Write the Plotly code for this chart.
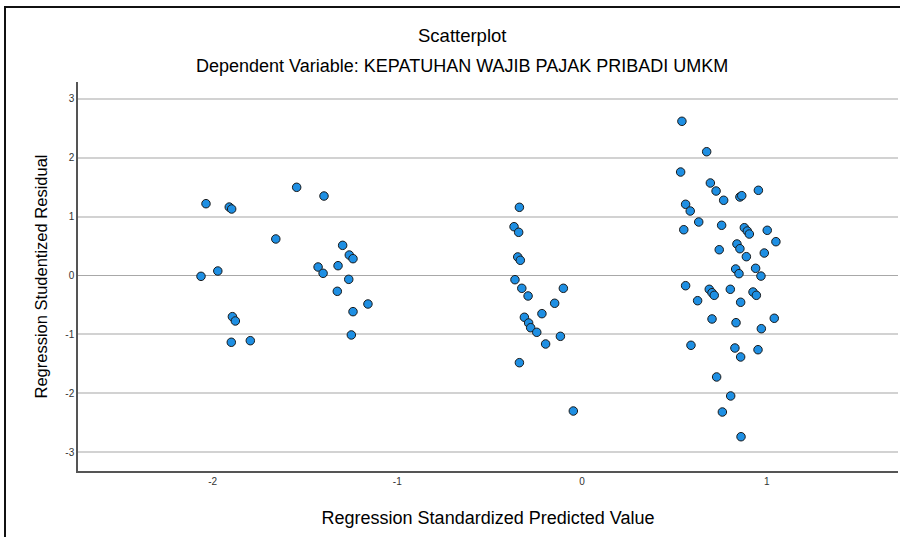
import plotly.graph_objects as go

# Regression Standardized Predicted Value (x) and Studentized Residual (y)
pred = [
    -2.036, -1.910, -1.897, -1.545, -1.397, -1.658, -1.296, -1.260, -1.240, -1.321,
    -1.429, -1.402, -1.263, -1.325, -1.159, -1.240, -1.249, -2.063, -1.972, -1.893,
    -1.877, -1.899, -1.796,
    -0.339, -0.368, -0.343, -0.348, -0.334, -0.363, -0.326, -0.101, -0.292, -0.148,
    -0.217, -0.312, -0.289, -0.278, -0.245, -0.117, -0.197, -0.339, -0.047,
    0.541, 0.675, 0.534, 0.695, 0.726, 0.767, 0.855, 0.865, 0.955, 0.561,
    0.586, 0.632, 0.551, 0.756, 0.879, 0.895, 0.906, 1.003, 1.050, 0.839,
    0.855, 0.743, 0.890, 0.987, 0.832, 0.850, 0.940, 0.969,
    0.561, 0.689, 0.704, 0.716, 0.803, 0.926, 0.944, 0.626, 0.859, 0.704,
    0.834, 1.041, 0.971, 0.590, 0.828, 0.953, 0.859, 0.729, 0.805, 0.760, 0.861,
]
resid = [
    1.217, 1.160, 1.127, 1.495, 1.347, 0.619, 0.511, 0.347, 0.285, 0.166,
    0.144, 0.037, -0.065, -0.268, -0.483, -0.613, -1.008, -0.014, 0.076, -0.698,
    -0.771, -1.132, -1.105,
    1.156, 0.827, 0.732, 0.314, 0.258, -0.071, -0.217, -0.217, -0.347, -0.471,
    -0.647, -0.708, -0.805, -0.885, -0.963, -1.031, -1.161, -1.478, -2.297,
    2.614, 2.098, 1.754, 1.568, 1.432, 1.275, 1.331, 1.353, 1.444, 1.207,
    1.093, 0.907, 0.776, 0.851, 0.810, 0.754, 0.703, 0.766, 0.573, 0.534,
    0.454, 0.437, 0.319, 0.381, 0.110, 0.031, 0.122, -0.010,
    -0.173, -0.234, -0.292, -0.336, -0.234, -0.280, -0.336, -0.427, -0.454, -0.737,
    -0.800, -0.725, -0.902, -1.183, -1.229, -1.258, -1.381, -1.720, -2.042, -2.314, -2.733,
]
x_ticks = [-2, -1, 0, 1]
x_tick_labels = ["-2", "-1", "0", "1"]
y_ticks = [-3, -2, -1, 0, 1, 2, 3]
y_tick_labels = ["-3", "-2", "-1", "0", "1", "2", "3"]

FONT = "Liberation Sans, Arial, sans-serif"

fig = go.Figure()
fig.add_trace(go.Scatter(
    x=pred, y=resid, mode="markers",
    marker=dict(size=8.5, color="#1e8fe3", line=dict(color="#1a1a1a", width=1)),
    showlegend=False, hoverinfo="x+y",
))

fig.update_layout(
    width=900, height=537,
    margin=dict(l=78, r=2, t=82, b=66, autoexpand=False),
    paper_bgcolor="white", plot_bgcolor="white",
    font=dict(family=FONT, color="#111"),
    xaxis=dict(
        range=[-2.729, 1.711], tickvals=x_ticks, ticktext=x_tick_labels,
        showgrid=False, zeroline=False, automargin=False,
        showline=True, linecolor="#555", linewidth=1.5,
        tickfont=dict(size=10, color="#333"), ticks="",
        title=dict(text="Regression Standardized Predicted Value",
                   font=dict(size=18, color="#000"), standoff=26),
    ),
    yaxis=dict(
        range=[-3.314, 3.28], tickvals=y_ticks, ticktext=y_tick_labels,
        showgrid=True, gridcolor="#d2d2d2", gridwidth=1.5, automargin=False,
        zeroline=True, zerolinecolor="#a8a8a8", zerolinewidth=1,
        showline=True, linecolor="#555", linewidth=1.5,
        tickfont=dict(size=10, color="#333"), ticks="",
        title=dict(text="Regression Studentized Residual",
                   font=dict(size=16.5, color="#000"), standoff=14),
    ),
    annotations=[
        dict(text="Scatterplot", xref="paper", yref="paper",
             x=(462 - 78) / 820, y=(471 - 35) / 389, xanchor="center", yanchor="middle",
             showarrow=False, font=dict(size=18.5, color="#000")),
        dict(text="Dependent Variable: KEPATUHAN WAJIB PAJAK PRIBADI UMKM",
             xref="paper", yref="paper",
             x=(462 - 78) / 820, y=(471 - 66) / 389, xanchor="center", yanchor="middle",
             showarrow=False, font=dict(size=18, color="#000")),
    ],
    shapes=[
        dict(type="rect", xref="paper", yref="paper",
             x0=(5 - 78) / 820, x1=(905 - 78) / 820,
             y0=(471 - 545) / 389, y1=(471 - 7) / 389,
             line=dict(color="#111", width=2), fillcolor="rgba(0,0,0,0)", layer="below"),
    ],
)

fig.write_html("out.html", config={"displayModeBar": False},
               post_script="document.body.style.margin='0';")
